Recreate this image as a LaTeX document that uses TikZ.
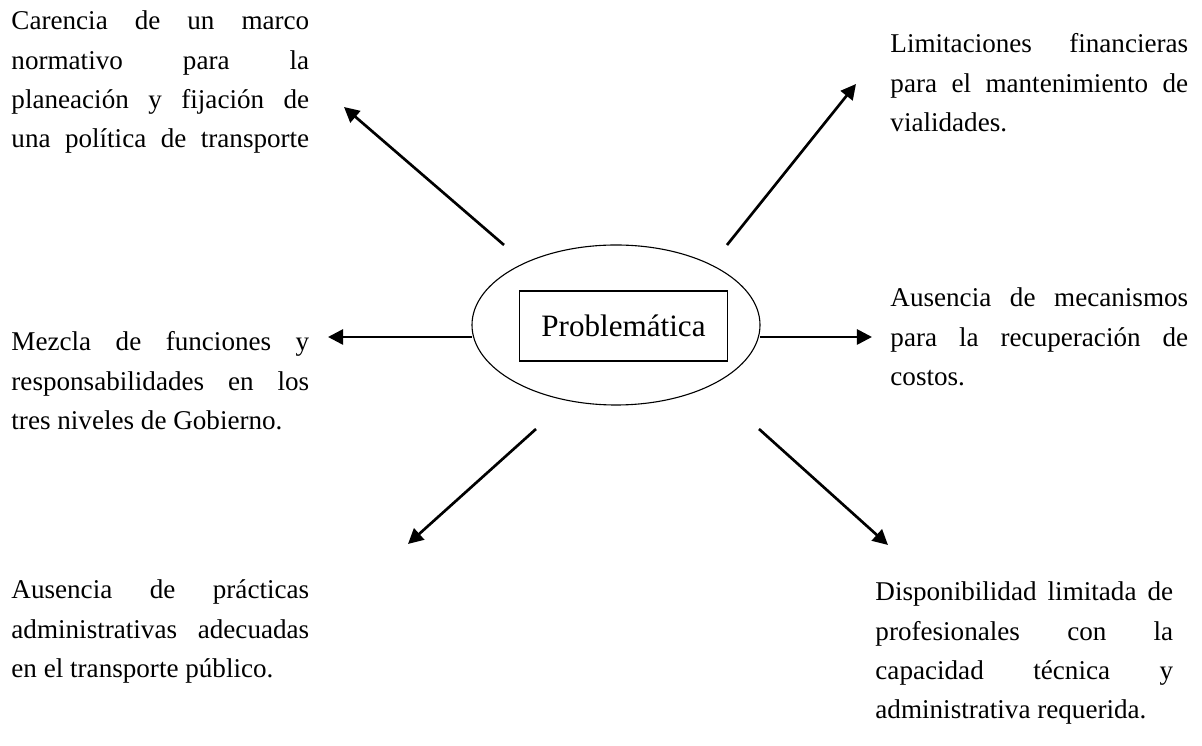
\documentclass[tikz,border=0pt]{standalone}
\usepackage{fontspec}
\setmainfont[Ligatures=NoCommon]{Liberation Serif}
\usetikzlibrary{arrows.meta,shapes.geometric}
\hyphenpenalty=10000\relax
\tolerance=10000\relax

\begin{document}
\begin{tikzpicture}[
      x=0.45pt, y=-0.45pt,
      >={Triangle[length=6.8pt,width=6.8pt]},
      txt/.style={anchor=base west, inner sep=0pt, text width=134pt, align=justify,
        font=\fontsize{12.2}{17.6}\selectfont},
      arr/.style={->, line width=1.2pt}]
    \useasboundingbox (0,0) rectangle (1202,746);
    % centre
    \node[draw, ellipse, line width=0.5pt, minimum width=129.6pt, minimum height=72pt] (ell) at (616,325) {};
    \node[draw, line width=0.5pt, minimum width=93.6pt, minimum height=31.5pt, inner sep=0pt,
      font=\fontsize{14}{16}\selectfont] (prob) at (623.5,326) {Problemática};
    % texts
    \node[txt] (tl) at (11,30) {Carencia de un marco\linebreak normativo para la\linebreak planeación y fijación de\linebreak una política de transporte\parfillskip=0pt\par};
    \node[txt] (ml) at (11,351) {Mezcla de funciones y\linebreak responsabilidades en los\linebreak tres niveles de Gobierno.};
    \node[txt] (bl) at (11,599) {Ausencia de prácticas\linebreak administrativas adecuadas\linebreak en el transporte público.};
    \node[txt] (tr) at (890,53) {Limitaciones financieras\linebreak para el mantenimiento de\linebreak vialidades.};
    \node[txt] (mr) at (890,307) {Ausencia de mecanismos\linebreak para la recuperación de\linebreak costos.};
    \node[txt] (br) at (875,601) {Disponibilidad limitada de\linebreak profesionales con la\linebreak capacidad técnica y\linebreak administrativa requerida.};
    % arrow ends
    \coordinate (tl0) at (504,245);  \coordinate (tl1) at (344,107);
    \coordinate (tr0) at (727,245);  \coordinate (tr1) at (856,84);
    \coordinate (ml0) at (472,337);  \coordinate (ml1) at (328,337);
    \coordinate (mr0) at (760,337);  \coordinate (mr1) at (872,337);
    \coordinate (bl0) at (536,429);  \coordinate (bl1) at (408,544);
    \coordinate (br0) at (759,429);  \coordinate (br1) at (888,545);
    \draw[arr] (tl0) -- (tl1);
    \draw[arr] (tr0) -- (tr1);
    \draw[arr] (ml0) -- (ml1);
    \draw[arr] (mr0) -- (mr1);
    \draw[arr] (bl0) -- (bl1);
    \draw[arr] (br0) -- (br1);
  \end{tikzpicture}
\end{document}
